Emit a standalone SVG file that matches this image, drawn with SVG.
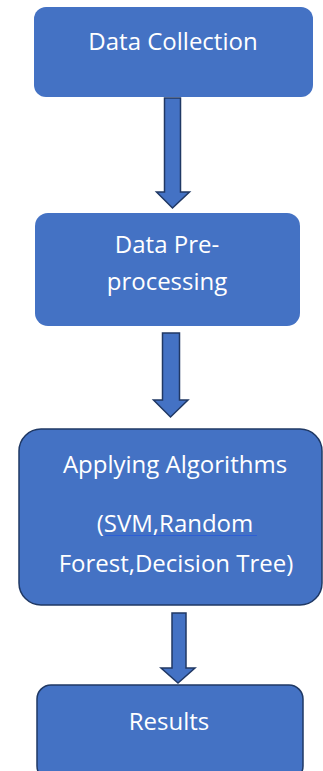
<svg xmlns="http://www.w3.org/2000/svg" width="323" height="771" viewBox="0 0 323 771">
<style>
.box{fill:#4472C4}
.bord{stroke:#1F3864;stroke-width:1.5}
.arr{fill:#4472C4;stroke:#203864;stroke-width:1.5;stroke-linejoin:miter}
text{font-family:"Open Sans",Lato,sans-serif;font-size:24px;fill:#FFFFFF;text-anchor:middle}
</style>
<rect width="323" height="771" fill="#FFFFFF"/>
<g id="connectors">
<path class="arr" d="M164.5,98 H180.5 V192 H189.5 L172.5,208 L156.5,192 H164.5 Z"/>
<path class="arr" d="M162.5,333 H179.5 V400 H188 L170.5,417 L153.5,400 H162.5 Z"/>
<path class="arr" d="M172,613 H186 V668 H195 L178,683 L161,668 H172 Z"/>
</g>
<g id="n1">
<rect class="box" x="34" y="7" width="279" height="90" rx="12"/>
<text x="173" y="50">Data Collection</text>
</g>
<g id="n2">
<rect class="box" x="35" y="213" width="265" height="113" rx="13"/>
<text x="167" y="253">Data Pre-</text>
<text x="167" y="290">processing</text>
</g>
<g id="n3">
<rect class="box bord" x="19" y="429" width="303" height="176" rx="22"/>
<text x="175" y="473">Applying Algorithms</text>
<text x="175" y="532">(SVM,Random</text>
<line x1="105" y1="535.5" x2="257" y2="535.5" stroke="#2E5FD6" stroke-width="1"/>
<text x="176" y="572">Forest,Decision Tree)</text>
</g>
<g id="n4">
<rect class="box bord" x="37" y="685" width="266" height="95" rx="14"/>
<text x="169" y="730">Results</text>
</g>
</svg>
